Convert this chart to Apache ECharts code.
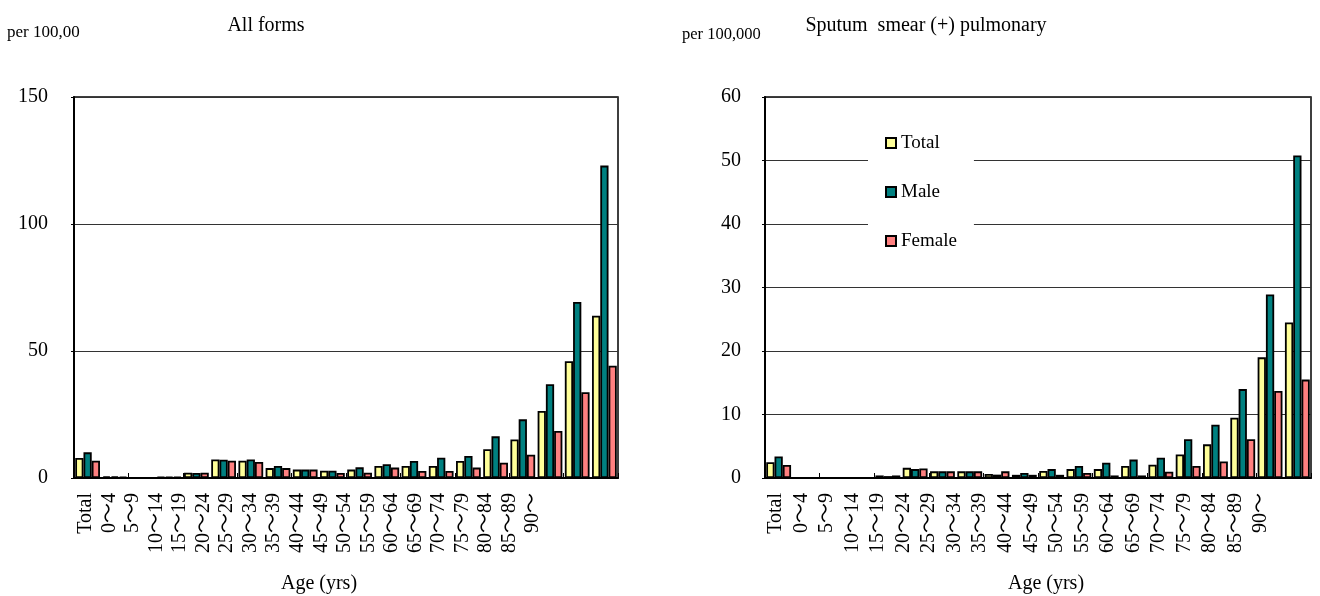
<!DOCTYPE html>
<html>
<head>
<meta charset="utf-8">
<script src="https://cdn.jsdelivr.net/npm/echarts/dist/echarts.min.js"></script>
<style>
html,body{margin:0;padding:0;background:#fff;}
#chart{width:1320px;height:596px;}
</style>
</head>
<body>
<div id="chart"></div>
<script>
const categories = ['Total','0～4','5～9','10～14','15～19','20～24','25～29','30～34','35～39','40～44','45～49','50～54','55～59','60～64','65～69','70～74','75～79','80～84','85～89','90～'];

// All forms (per 100,000)
const allTotal  = [7.9, 0.6, 0, 0.4, 2.1, 7.3, 6.8, 3.9, 3.3, 2.9, 3.3, 4.7, 4.7, 4.7, 6.7, 11.3, 15.2, 26.4, 46.0, 63.9];
const allMale   = [10.1, 0.6, 0, 0.5, 2.0, 7.2, 7.3, 4.7, 3.3, 2.9, 4.2, 5.4, 6.7, 8.0, 8.7, 16.4, 23.1, 36.9, 69.3, 123.0];
const allFemale = [6.8, 0.5, 0, 0.4, 2.1, 6.8, 6.3, 3.9, 3.3, 2.0, 2.1, 4.1, 2.8, 2.8, 4.1, 6.0, 9.2, 18.5, 33.8, 44.2];

// Sputum smear (+) pulmonary (per 100,000)
const smearTotal  = [2.5, 0, 0, 0, 0.4, 1.6, 1.05, 1.05, 0.63, 0.5, 1.1, 1.4, 1.4, 1.9, 2.1, 3.7, 5.3, 9.5, 19.0, 24.5];
const smearMale   = [3.4, 0, 0, 0, 0.3, 1.4, 1.05, 1.05, 0.53, 0.8, 1.4, 1.9, 2.4, 2.9, 3.2, 6.1, 8.4, 14.0, 28.9, 50.8];
const smearFemale = [2.05, 0, 0, 0, 0.4, 1.5, 1.05, 1.05, 1.05, 0.5, 0.5, 0.8, 0.4, 0.4, 1.0, 1.9, 2.6, 6.1, 13.7, 15.5];

const leftTicks  = [0, 50, 100, 150];
const rightTicks = [0, 10, 20, 30, 40, 50, 60];

const seriesNames = ['Total', 'Male', 'Female'];
const seriesColors = ['#FFFF99', '#008080', '#FF8080'];

const FONT = "'Liberation Serif', 'Times New Roman', 'Noto Sans CJK JP', serif";

function barSeries(name, color, data, idx) {
  return {
    name: name,
    type: 'bar',
    xAxisIndex: idx,
    yAxisIndex: idx,
    data: data,
    barGap: '0%',
    barCategoryGap: '9%',
    itemStyle: { color: color, borderColor: '#000', borderWidth: 1.8 },
    emphasis: { disabled: true }
  };
}

function plotX(grid) {
  return {
    gridIndex: grid, type: 'category', data: categories,
    axisLine: { show: true, lineStyle: { color: '#000', width: 2 } },
    axisTick: { show: true, inside: true, length: 5, lineStyle: { color: '#000', width: 1 } },
    axisLabel: { show: false },
    splitLine: { show: false }
  };
}
function labelX(grid) {
  return {
    gridIndex: grid, type: 'category', data: categories,
    axisLine: { show: false }, axisTick: { show: false }, splitLine: { show: false },
    axisLabel: { show: true, interval: 0, rotate: 90, margin: 15, fontSize: 20, color: '#000', fontFamily: FONT }
  };
}
function plotY(grid, ticks, margin) {
  return {
    gridIndex: grid, type: 'value',
    min: ticks[0], max: ticks[ticks.length - 1], interval: ticks[1] - ticks[0],
    axisLine: { show: true, lineStyle: { color: '#000', width: 2 } },
    axisTick: { show: true, length: 3, lineStyle: { color: '#000' } },
    axisLabel: { fontSize: 20, margin: margin, color: '#000', fontFamily: FONT },
    splitLine: { show: true, lineStyle: { color: '#333', width: 1 } }
  };
}
function hiddenY(grid) {
  return { gridIndex: grid, type: 'value', min: 0, max: 1, show: false };
}

const txt = (size) => ({ fontSize: size, fontWeight: 'normal', color: '#000', fontFamily: FONT });

const option = {
  animation: false,
  backgroundColor: '#fff',
  title: [
    { text: 'per 100,00', left: 7, top: 24, padding: 0, textStyle: txt(17) },
    { text: 'All forms', left: 266, top: 16, padding: 0, textAlign: 'center', textStyle: txt(20) },
    { text: 'per 100,000', left: 682, top: 26, padding: 0, textStyle: txt(16.5) },
    { text: 'Sputum  smear (+) pulmonary', left: 926, top: 16, padding: 0, textAlign: 'center', textStyle: txt(20) },
    { text: 'Age (yrs)', left: 319, top: 574, padding: 0, textAlign: 'center', textStyle: txt(20) },
    { text: 'Age (yrs)', left: 1046, top: 574, padding: 0, textAlign: 'center', textStyle: txt(20) }
  ],
  legend: {
    data: seriesNames,
    orient: 'vertical',
    left: 868, top: 120,
    padding: [13, 17, 10, 17],
    backgroundColor: '#fff',
    icon: 'rect',
    itemWidth: 10, itemHeight: 10, itemGap: 29,
    selectedMode: false,
    textStyle: { fontSize: 19, lineHeight: 20, color: '#000', fontFamily: FONT }
  },
  grid: [
    { left: 74, top: 97, width: 544, height: 381, show: true, borderColor: '#000', borderWidth: 1.5, backgroundColor: 'transparent' },
    { left: 765, top: 97, width: 546, height: 381, show: true, borderColor: '#000', borderWidth: 1.5, backgroundColor: 'transparent' },
    { left: 74, top: 97, width: 471, height: 381 },
    { left: 763, top: 97, width: 511, height: 381 }
  ],
  xAxis: [plotX(0), plotX(1), labelX(2), labelX(3)],
  yAxis: [plotY(0, leftTicks, 26), plotY(1, rightTicks, 24), hiddenY(2), hiddenY(3)],
  series: [
    barSeries(seriesNames[0], seriesColors[0], allTotal, 0),
    barSeries(seriesNames[1], seriesColors[1], allMale, 0),
    barSeries(seriesNames[2], seriesColors[2], allFemale, 0),
    barSeries(seriesNames[0], seriesColors[0], smearTotal, 1),
    barSeries(seriesNames[1], seriesColors[1], smearMale, 1),
    barSeries(seriesNames[2], seriesColors[2], smearFemale, 1)
  ]
};

const chart = echarts.init(document.getElementById('chart'), null, { renderer: 'canvas' });
chart.setOption(option);
</script>
</body>
</html>
